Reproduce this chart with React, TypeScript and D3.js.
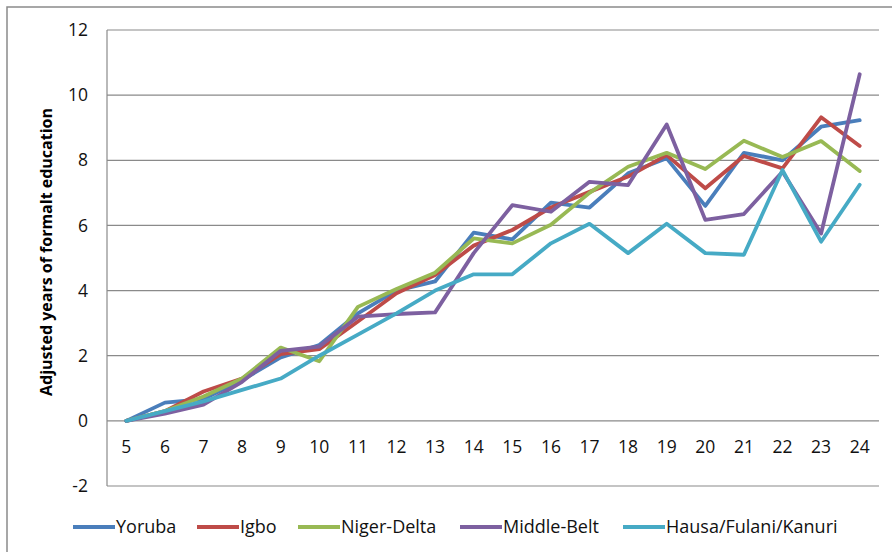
import * as d3 from "d3";

// ages on the category axis
const ages = ["5", "6", "7", "8", "9", "10", "11", "12", "13", "14", "15", "16", "17", "18", "19", "20", "21", "22", "23", "24"];
const yTicks = [-2, 0, 2, 4, 6, 8, 10, 12];

const yoruba = [0, 0.56, 0.67, 1.25, 1.95, 2.33, 3.3, 4.0, 4.28, 5.78, 5.57, 6.7, 6.55, 7.6, 8.06, 6.6, 8.23, 8.0, 9.03, 9.23];
const igbo = [0, 0.3, 0.9, 1.3, 2.05, 2.2, 3.05, 3.92, 4.48, 5.38, 5.86, 6.55, 7.03, 7.5, 8.16, 7.14, 8.13, 7.75, 9.32, 8.44];
const nigerDelta = [0, 0.3, 0.75, 1.3, 2.25, 1.83, 3.5, 4.05, 4.55, 5.6, 5.45, 6.02, 7.0, 7.8, 8.23, 7.73, 8.6, 8.1, 8.59, 7.67];
const middleBelt = [0, 0.22, 0.5, 1.2, 2.15, 2.28, 3.2, 3.28, 3.33, 5.15, 6.62, 6.42, 7.34, 7.24, 9.1, 6.17, 6.35, 7.65, 5.75, 10.64];
const hausa = [0, 0.3, 0.6, 0.95, 1.3, 2.0, 2.65, 3.3, 4.0, 4.5, 4.5, 5.45, 6.05, 5.15, 6.05, 5.15, 5.1, 7.7, 5.5, 7.25];

const seriesNames = ["Yoruba", "Igbo", "Niger-Delta", "Middle-Belt", "Hausa/Fulani/Kanuri"];
const seriesValues = [yoruba, igbo, nigerDelta, middleBelt, hausa];
const colors = ["#4A7EBB", "#BE4B48", "#98B954", "#7D60A0", "#46AAC5"];

const W = 892,
	H = 552;
const plot = { left: 107, right: 879, top: 30, bottom: 486 };
const font = "'Open Sans', sans-serif";
const grid = "#8a8a8a";

// legend item x positions (start of swatch line)
const legendX = [73, 197, 298, 460, 623];

export default function App() {
	const x = d3.scaleBand().domain(ages).range([plot.left, plot.right]);
	const y = d3.scaleLinear().domain([-2, 12]).range([plot.bottom, plot.top]);
	const cx = (a) => x(a) + x.bandwidth() / 2;

	const line = d3
		.line()
		.x((d, i) => cx(ages[i]))
		.y((d) => y(d));

	return (
		<svg width={W} height={H} style={{ position: "absolute", left: 0, top: 0, background: "#fff" }}>
			<rect x={7} y={7} width={W + 10} height={H + 10} fill="#fff" stroke={grid} strokeWidth={1.5} />

			{/* gridlines */}
			{yTicks.map((t) => (
				<line key={t} x1={plot.left} x2={plot.right} y1={y(t)} y2={y(t)} stroke={grid} strokeWidth={1.2} />
			))}
			<line x1={plot.left} x2={plot.left} y1={plot.top} y2={plot.bottom} stroke={grid} strokeWidth={1.2} />

			{/* y tick labels */}
			{yTicks.map((t) => (
				<text key={t} x={88} y={y(t)} dy="0.35em" textAnchor="end" fontFamily={font} fontSize={17.5} fill="#111">
					{t}
				</text>
			))}

			{/* x tick labels, the category axis crosses at 0 */}
			{ages.map((a) => (
				<text key={a} x={cx(a)} y={y(0) + 26} dy="0.35em" textAnchor="middle" fontFamily={font} fontSize={17.5} fill="#111">
					{a}
				</text>
			))}

			<text
				transform="translate(46 252) rotate(-90)"
				textAnchor="middle"
				dy="0.35em"
				fontFamily={font}
				fontWeight="bold"
				fontSize={16}
				fill="#000"
			>
				Adjusted years of formalt education
			</text>

			{seriesValues.map((vals, i) => (
				<path key={i} d={line(vals)} fill="none" stroke={colors[i]} strokeWidth={3.8} strokeLinejoin="round" strokeLinecap="round" />
			))}

			{/* legend */}
			{seriesNames.map((name, i) => (
				<g key={name} transform={`translate(${legendX[i]} 527)`}>
					<line x1={0} x2={42} y1={0} y2={0} stroke={colors[i]} strokeWidth={3.8} />
					<text x={43} y={0} dy="0.35em" fontFamily={font} fontSize={18} fill="#111">
						{name}
					</text>
				</g>
			))}
		</svg>
	);
}
